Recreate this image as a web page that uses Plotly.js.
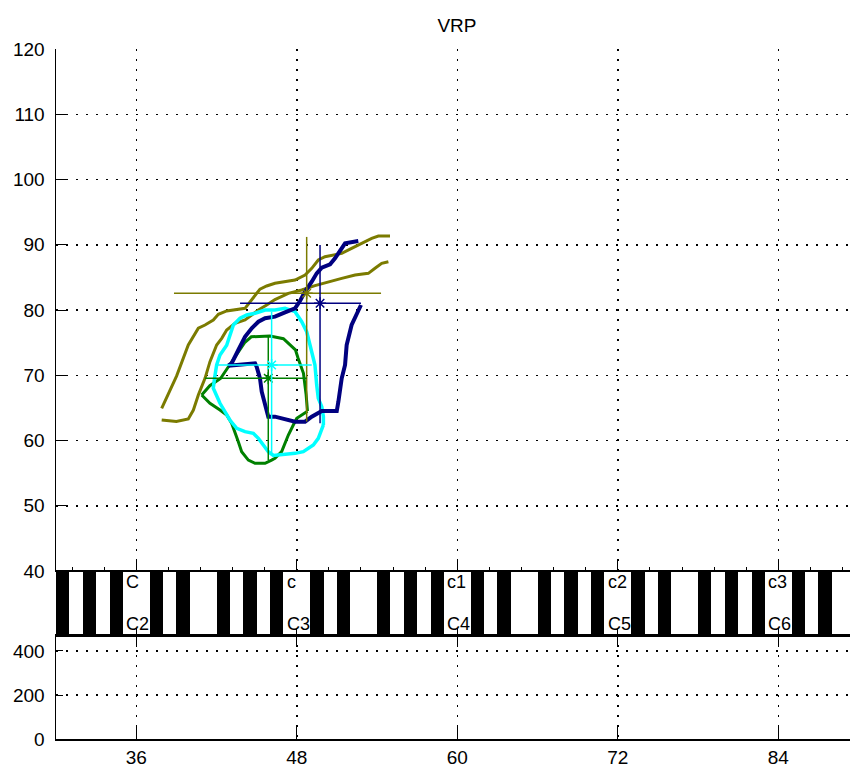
<!DOCTYPE html>
<html>
<head>
<meta charset="utf-8">
<script src="https://cdn.plot.ly/plotly-3.0.1.min.js"></script>
<style>
html,body{margin:0;padding:0;background:#fff;overflow:hidden;}
#chart{width:850px;height:767px;}
</style>
</head>
<body>
<div id="chart"></div>
<script>
// ---------- data ----------
const titleText = 'VRP';
const xTickVals = [36, 48, 60, 72, 84];
const yMainTicks = [40, 50, 60, 70, 80, 90, 100, 110, 120];
const yLowTicks = [0, 200, 400];
const octaveNotes = [36, 48, 60, 72, 84];
const upperKeyLabels = ['C', 'c', 'c1', 'c2', 'c3'];
const lowerKeyLabels = ['C2', 'C3', 'C4', 'C5', 'C6'];
const keyFirst = 30;
const keyLast = 89;
const blackPitchClasses = [1, 3, 6, 8, 10];

// olive contours
const oliveUpperX = [37.9, 39.02, 39.89, 40.64, 41.14, 41.76, 42.14, 42.76, 44.13, 44.5, 44.88, 45.25, 45.75, 46.37, 47.87, 48.62, 49.12, 49.61, 50.11, 51.36, 52.1, 52.86, 53.6, 54.1, 54.97];
const oliveUpperY = [64.93, 69.9, 74.64, 77.2, 77.7, 78.47, 79.34, 79.85, 80.26, 81.18, 82.3, 83.2, 83.68, 84.09, 84.6, 85.36, 86.39, 87.66, 88.17, 88.68, 89.45, 90.22, 90.99, 91.34, 91.34];
const oliveLowerX = [37.9, 39.0, 39.89, 40.27, 40.64, 41.14, 41.51, 42.01, 42.39, 42.76, 43.38, 44.13, 44.63, 45.13, 45.75, 46.37, 47.37, 48.37, 49.36, 50.36, 51.36, 52.36, 53.35, 53.85, 54.35, 54.85];
const oliveLowerY = [63.14, 62.9, 63.3, 64.67, 66.97, 69.53, 72.08, 74.64, 75.66, 76.93, 77.96, 78.47, 79.23, 80.0, 80.77, 81.6, 82.56, 83.07, 83.73, 84.34, 84.85, 85.36, 85.62, 86.39, 87.15, 87.4];

// navy contours
const navyUpperX = [42.88, 43.13, 43.63, 44.13, 44.63, 45.13, 45.63, 46.37, 47.12, 47.87, 48.24, 48.62, 49.12, 49.49, 49.87, 50.49, 50.86, 51.23, 51.61, 52.6];
const navyUpperY = [71.47, 71.83, 73.87, 75.9, 77.2, 78.2, 78.73, 78.98, 79.64, 80.26, 81.38, 82.81, 84.34, 85.62, 86.49, 87.0, 87.92, 89.2, 90.22, 90.57];
const navyLowerX = [42.88, 44.88, 45.0, 45.25, 45.38, 45.63, 45.87, 46.37, 47.87, 48.62, 49.12, 49.87, 50.99, 51.11, 51.23, 51.36, 51.61, 51.73, 52.1, 52.48, 52.8];
const navyLowerY = [71.47, 71.83, 71.32, 69.53, 67.48, 65.44, 63.65, 63.65, 62.88, 62.88, 63.65, 64.52, 64.52, 65.95, 67.48, 69.53, 71.57, 74.64, 77.7, 79.23, 80.77];

// green contours
const greenUpperX = [40.89, 41.5, 42.3, 43.0, 43.6, 44.1, 44.6, 46.0, 47.0, 47.5, 47.9, 48.1, 48.5, 48.7, 48.8];
const greenUpperY = [66.97, 68.4, 69.5, 71.6, 73.6, 75.0, 75.9, 76.0, 75.6, 74.6, 73.9, 72.6, 70.3, 67.0, 64.5];
const greenLowerX = [40.89, 41.51, 42.26, 42.76, 43.13, 43.38, 43.63, 43.88, 44.38, 44.88, 45.63, 46.12, 46.37, 46.87, 47.37, 47.74, 48.0, 48.8];
const greenLowerY = [66.97, 65.7, 64.67, 63.9, 62.64, 61.35, 59.82, 58.28, 57.0, 56.5, 56.5, 57.0, 57.27, 58.3, 60.84, 62.38, 63.4, 64.5];

// cyan contours
const cyanUpperX = [41.85, 42.01, 42.26, 42.76, 43.26, 43.76, 44.26, 44.88, 45.63, 46.37, 47.12, 47.87, 48.37, 48.74, 48.99, 49.36, 49.49, 49.61, 49.87, 49.99, 49.99];
const cyanUpperY = [69.5, 71.57, 73.1, 74.6, 77.7, 78.73, 79.23, 79.5, 80.0, 80.0, 80.26, 79.74, 78.2, 76.67, 74.64, 71.57, 68.5, 66.46, 65.18, 63.65, 62.38];
const cyanLowerX = [41.85, 41.76, 42.26, 42.64, 43.0, 43.51, 44.13, 44.75, 45.13, 45.5, 45.87, 46.25, 46.87, 47.87, 48.49, 49.24, 49.61, 49.99];
const cyanLowerY = [69.5, 68.0, 65.7, 64.4, 63.14, 61.87, 61.35, 61.1, 60.33, 59.3, 58.28, 57.7, 57.78, 58.03, 58.28, 59.3, 60.33, 62.38];

// crosshairs (olive, green, cyan, navy)
const crossColors = ['#7b7b00', '#008000', '#00ffff', '#000080'];
const crossCx = [48.74, 45.87, 46.12, 49.74];
const crossCy = [82.56, 69.53, 71.57, 81.03];
const crossXmin = [38.82, 41.14, 42.01, 43.76];
const crossXmax = [54.3, 48.74, 49.12, 52.8];
const crossYmin = [62.9, 57.0, 58.0, 62.64];
const crossYmax = [91.2, 75.9, 79.74, 89.96];

// ---------- build ----------
const traces = [];
function contour(xs, ys, color, w) {
  traces.push({x: xs, y: ys, type: 'scatter', mode: 'lines', line: {color: color, width: w}, xaxis: 'x', yaxis: 'y', hoverinfo: 'skip', showlegend: false});
}
const contourColors = ['#7b7b00', '#008000', '#00ffff', '#000080'];
contour(oliveUpperX, oliveUpperY, contourColors[0], 3);
contour(oliveLowerX, oliveLowerY, contourColors[0], 3);
contour(greenUpperX, greenUpperY, contourColors[1], 3);
contour(greenLowerX, greenLowerY, contourColors[1], 3);
contour(cyanUpperX, cyanUpperY, contourColors[2], 3.5);
contour(cyanLowerX, cyanLowerY, contourColors[2], 3.5);
contour(navyUpperX, navyUpperY, contourColors[3], 4);
contour(navyLowerX, navyLowerY, contourColors[3], 4);

for (let i = 0; i < crossColors.length; i++) {
  traces.push({
    x: [crossXmin[i], crossXmax[i], null, crossCx[i], crossCx[i]],
    y: [crossCy[i], crossCy[i], null, crossYmin[i], crossYmax[i]],
    type: 'scatter', mode: 'lines', line: {color: crossColors[i], width: 1.5},
    xaxis: 'x', yaxis: 'y', hoverinfo: 'skip', showlegend: false
  });
  traces.push({
    x: [crossCx[i]], y: [crossCy[i]], type: 'scatter', mode: 'markers',
    marker: {symbol: 'asterisk-open', size: 10, line: {color: crossColors[i], width: 1.5}, color: crossColors[i]},
    xaxis: 'x', yaxis: 'y', hoverinfo: 'skip', showlegend: false
  });
}

// keyboard black keys
const blackX = [];
const blackY = [];
for (let n = keyFirst; n <= keyLast; n++) {
  if (blackPitchClasses.indexOf(((n % 12) + 12) % 12) >= 0) { blackX.push(n + 0.5); blackY.push(1); }
}
traces.push({
  x: blackX, y: blackY, type: 'bar', width: 1, marker: {color: '#000', line: {width: 0}},
  xaxis: 'x2', yaxis: 'y2', hoverinfo: 'skip', showlegend: false
});
// empty trace for bottom panel
traces.push({x: [xTickVals[0]], y: [null], type: 'scatter', mode: 'lines', xaxis: 'x3', yaxis: 'y3', showlegend: false, hoverinfo: 'skip'});

const annotations = [];
for (let i = 0; i < octaveNotes.length; i++) {
  annotations.push({x: octaveNotes[i] - 0.82, y: 1, xref: 'x2', yref: 'y2', text: upperKeyLabels[i], showarrow: false, xanchor: 'left', yanchor: 'top', font: {size: 18, color: '#000'}, borderpad: 0});
  annotations.push({x: octaveNotes[i] - 0.82, y: 0, xref: 'x2', yref: 'y2', text: lowerKeyLabels[i], showarrow: false, xanchor: 'left', yanchor: 'bottom', font: {size: 18, color: '#000'}, borderpad: 0});
}

const figH = 767, plotTopPx = 49, plotBottomPx = 739;
const plotH = plotBottomPx - plotTopPx;
const dMainLo = (plotBottomPx - 571) / plotH;
const dKeyLo = (plotBottomPx - 635) / plotH;
const xRange = [30, 89.36];
const gridStyle = {showgrid: true, gridcolor: '#000', gridwidth: 1.5, griddash: '1.5px,8.5px'};

const layout = {
  width: 850, height: figH,
  margin: {l: 56, r: 0, t: plotTopPx, b: figH - plotBottomPx, pad: 0},
  paper_bgcolor: '#fff', plot_bgcolor: 'rgba(0,0,0,0)',
  font: {family: 'Liberation Sans, Arial, sans-serif', size: 19, color: '#000'},
  title: {text: titleText, x: 0.505, xref: 'paper', xanchor: 'center', y: 1 - 25 / figH, yref: 'container', yanchor: 'middle', font: {size: 19, color: '#000'}},
  showlegend: false,
  bargap: 0,
  xaxis: Object.assign({
    domain: [0, 1], range: xRange, anchor: 'y', zeroline: false,
    showline: true, linecolor: '#000', linewidth: 1,
    tickmode: 'array', tickvals: xTickVals, ticks: 'inside', ticklen: 10, tickcolor: '#000',
    showticklabels: false,
    minor: {tick0: 36, dtick: 2.4, ticks: 'inside', ticklen: 4, tickcolor: '#000', showgrid: false}
  }, gridStyle),
  yaxis: Object.assign({
    domain: [dMainLo, 1], range: [40, 120], anchor: 'x', zeroline: false,
    showline: true, linecolor: '#000', linewidth: 1.5,
    tickmode: 'array', tickvals: yMainTicks, ticks: 'inside', ticklen: 10, tickcolor: '#000',
    ticklabelstandoff: 6
  }, gridStyle),
  xaxis2: {
    domain: [0, 1], range: xRange, anchor: 'y2', zeroline: false, showgrid: false,
    showline: true, mirror: true, linecolor: '#000', linewidth: 1.5,
    tickmode: 'array', tickvals: xTickVals, ticks: 'inside', ticklen: 7, tickcolor: '#000',
    showticklabels: false
  },
  yaxis2: {domain: [dKeyLo, dMainLo], range: [0, 1], anchor: 'x2', visible: false, fixedrange: true},
  xaxis3: Object.assign({
    domain: [0, 1], range: xRange, anchor: 'y3', zeroline: false,
    showline: true, mirror: 'ticks', linecolor: '#000', linewidth: 1.5,
    tickmode: 'array', tickvals: xTickVals, ticks: 'inside', ticklen: 12, tickcolor: '#000',
    ticklabelstandoff: 1
  }, gridStyle),
  yaxis3: Object.assign({
    domain: [0, dKeyLo], range: [0, 472.7], anchor: 'x3', zeroline: false,
    showline: true, linecolor: '#000', linewidth: 1.5,
    tickmode: 'array', tickvals: yLowTicks, ticks: 'inside', ticklen: 7, tickcolor: '#000',
    ticklabelstandoff: 6
  }, gridStyle),
  annotations: annotations
};

Plotly.newPlot('chart', traces, layout, {displayModeBar: false, staticPlot: true});
</script>
</body>
</html>
